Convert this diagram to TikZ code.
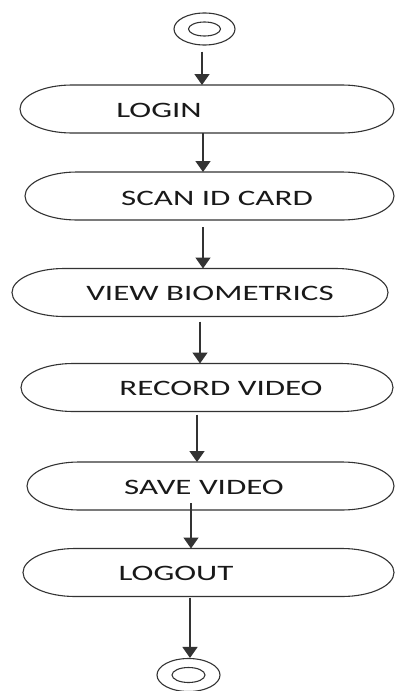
\documentclass[tikz,border=0pt]{standalone}
\usepackage{fontspec}
\setmainfont{Carlito}
\usetikzlibrary{arrows.meta,shapes.geometric}
\definecolor{ink}{HTML}{333333}
\begin{document}
\begin{tikzpicture}[x=1pt,y=-1pt,
  box/.style={draw=none, minimum width=#1, minimum height=48pt, inner sep=0pt, outer sep=0pt},
  lbl/.style={font=\fontsize{22}{26}\selectfont, text=black!90, inner sep=0pt, xscale=1.5},
  edge/.style={draw=ink, line width=1.1pt},
  ring/.style={ellipse, draw=ink, line width=1.1pt, inner sep=0pt, minimum width=#1},
  arr/.style={draw=ink, line width=1.5pt, -{Triangle[width=15pt,length=11pt]}}]
\useasboundingbox (0,0) rectangle (396,691);
% terminal circles
\node[ring=61pt, minimum height=32pt] (start) at (204.5,29) {};
\node[ring=32pt, minimum height=14pt] (startin) at (start) {};
\node[ring=63pt, minimum height=33pt] (end) at (188.5,675) {};
\node[ring=33pt, minimum height=15pt] (endin) at (end) {};
% activity boxes
\node[box=374pt] (login)  at (207,109)   {};
\node[box=369pt] (scan)   at (209.5,196) {};
\node[box=376pt] (view)   at (200,292.5) {};
\node[box=372pt] (record) at (207,387.5) {};
\node[box=367pt] (save)   at (210.5,486) {};
\node[box=371pt] (logout) at (208.5,572.5) {};
\foreach \n in {login,scan,view,record,save,logout}{
  \draw[edge] ([xshift=52pt]\n.north west) -- ([xshift=-52pt]\n.north east)
    arc[start angle=90,end angle=-90,x radius=52pt,y radius=24pt]
    -- ([xshift=52pt]\n.south west)
    arc[start angle=270,end angle=90,x radius=52pt,y radius=24pt] -- cycle;
}
% labels
\node[lbl] (tlogin)  at (159,110) {LOGIN};
\node[lbl] (tscan)   at (217,198) {SCAN ID CARD};
\node[lbl] (tview)   at (210,293) {VIEW BIOMETRICS};
\node[lbl] (trecord) at (221,388) {RECORD VIDEO};
\node[lbl] (tsave)   at (204,487) {SAVE VIDEO};
\node[lbl] (tlogout) at (176,573) {LOGOUT};
% connectors
\coordinate (a1) at ([xshift=-2.5pt,yshift=-6pt]start.south);
\coordinate (a2) at ([xshift=-4pt]login.south);
\coordinate (a3) at ([xshift=-6.5pt,yshift=-7pt]scan.south);
\coordinate (a4) at ([yshift=-5pt]view.south);
\coordinate (a5) at ([xshift=-10pt,yshift=-3pt]record.south);
\coordinate (a6) at ([xshift=-19.5pt,yshift=7pt]save.south);
\coordinate (a7) at ([xshift=-18.5pt,yshift=-1pt]logout.south);
\draw[arr] (a1) -- (a1 |- login.north);
\draw[arr] (a2) -- (a2 |- scan.north);
\draw[arr] (a3) -- (a3 |- view.north);
\draw[arr] (a4) -- (a4 |- record.north);
\draw[arr] (a5) -- (a5 |- save.north);
\draw[arr] (a6) -- (a6 |- logout.north);
\draw[arr] (a7) -- (a7 |- end.north);
\end{tikzpicture}
\end{document}
